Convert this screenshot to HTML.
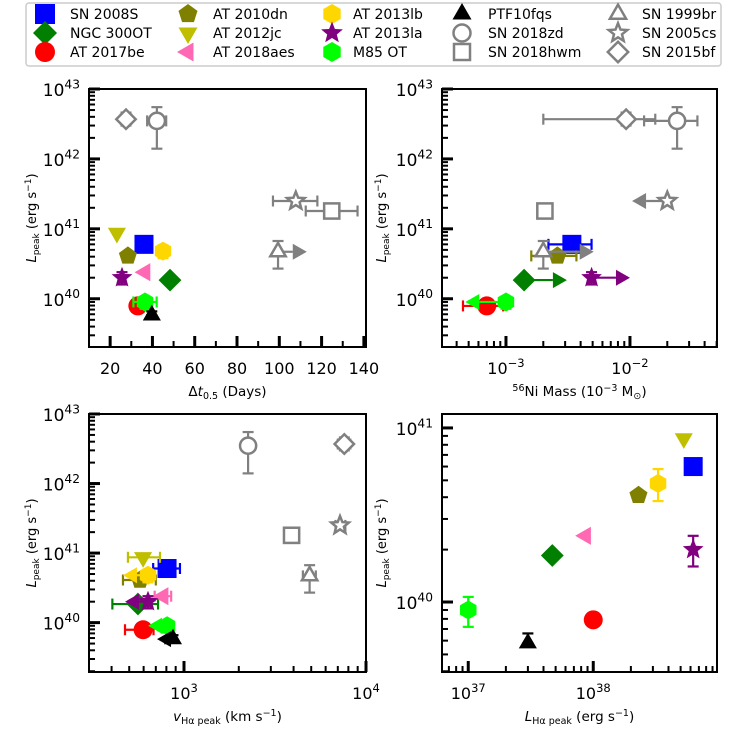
<!DOCTYPE html>
<html><head><meta charset="utf-8"><style>
body{margin:0;background:#fff}
svg{display:block;font-family:"DejaVu Sans","Liberation Sans",sans-serif}
</style></head><body>
<svg id="fig" width="747" height="747" viewBox="0 0 747 747"></svg>
<script>
// ---------- data ----------
const names=["SN 2008S","NGC 300OT","AT 2017be","AT 2010dn","AT 2012jc","AT 2018aes","AT 2013lb","AT 2013la","M85 OT","PTF10fqs","SN 1999br","SN 2018zd","SN 2018hwm","SN 2005cs","SN 2015bf"];
const colors=["#0000ff","#007f00","#ff0000","#808000","#bfbf00","#ff69b4","#ffd700","#800080","#00ff00","#000000","#808080","#808080","#808080","#808080","#808080"];
const shapes=["square","diamond","circle","pentagon","tridown","trileft","hexagon","star","hexagon","triup","triup","circle","square","star","diamond"];
const filled=[1,1,1,1,1,1,1,1,1,1,0,0,0,0,0];
const legendOrder=[0,1,2,3,4,5,6,7,8,9,11,12,10,13,14];
const lPeak=[6.0e40,1.85e40,7.9e39,4.1e40,8.7e40,2.4e40,4.8e40,2.0e40,9e39,5.8e39,4.7e40,3.5e42,1.8e41,2.5e41,3.7e42];
const lPeakErr=[null,null,null,null,null,null,[3.8e40,5.8e40],[1.6e40,2.4e40],[7.2e39,1.07e40],[5.8e39,6.6e39],[2.7e40,6.7e40],[1.4e42,5.5e42],null,null,[3.0e42,4.6e42]];
// panel 1: duration
const p1X=[36,48.3,33.1,28.4,23.2,36.5,45,25.6,36.5,39.7,99.4,42.1,124.8,107.8,27.5];
const p1XErr=[null,null,null,null,null,null,null,null,[31,42],null,null,[37.5,46.5],[112.5,137],[97,118],[25,30]];
const p1Lim=[null,null,null,null,null,null,null,null,null,null,113,null,null,null,null];
// panel 2: Ni mass
const p2X=[3.4e-3,1.4e-3,7.0e-4,2.6e-3,null,null,null,4.9e-3,1.0e-3,null,2.0e-3,2.4e-2,2.06e-3,2.0e-2,9.3e-3];
const p2XErr=[[2.2e-3,4.9e-3],null,[4.5e-4,9.5e-4],[1.6e-3,3.7e-3],null,null,null,null,null,null,null,[1.3e-2,3.5e-2],null,null,[2e-3,1.6e-2]];
const p2Lim=[null,3.1e-3,null,null,null,null,null,1.0e-2,4.7e-4,null,5.1e-3,null,null,1.04e-2,null];
// panel 3: Halpha velocity
const p3X=[807,558,596,573,596,768,634,634,807,870,4900,2250,3900,7200,7600];
const p3XErr=[[677,950],[404,720],[474,680],[462,700],[492,738],[690,850],null,null,null,null,[4500,5300],null,[3700,4200],[6800,7700],[7000,8200]];
const p3Lim=[null,null,null,null,null,null,462,474,634,711,null,null,null,null,null];
// panel 4: Halpha luminosity
const p4X=[6.3e38,4.7e37,1.0e38,2.3e38,5.3e38,8.7e37,3.3e38,6.3e38,1e37,3e37,null,null,null,null,null];
const p4XErr=[null,null,null,null,null,null,null,null,null,null,null,null,null,null,null];
const p4Lim=[null,null,null,null,null,null,null,null,null,null,null,null,null,null,null];
const p1Ticks=[20,40,60,80,100,120,140];

// ---------- helpers ----------
const NS="http://www.w3.org/2000/svg";
const svg=document.getElementById('fig');
function el(tag,attrs,parent){const e=document.createElementNS(NS,tag);for(const k in attrs)e.setAttribute(k,attrs[k]);(parent||svg).appendChild(e);return e;}
function markerPts(shape,cx,cy,r){
  const pts=[];
  const poly=(n,rot,rr)=>{for(let i=0;i<n;i++){const a=rot+i*2*Math.PI/n;pts.push([cx+rr*Math.cos(a),cy+rr*Math.sin(a)]);}};
  if(shape==="pentagon")poly(5,-Math.PI/2,r);
  else if(shape==="hexagon")poly(6,-Math.PI/2,r);
  else if(shape==="triup")poly(3,-Math.PI/2,r*1.1);
  else if(shape==="tridown")poly(3,Math.PI/2,r*1.1);
  else if(shape==="trileft")poly(3,Math.PI,r*1.1);
  else if(shape==="diamond")poly(4,-Math.PI/2,r*1.2);
  else if(shape==="star"){for(let i=0;i<10;i++){const a=-Math.PI/2+i*Math.PI/5;const rr=i%2?r*0.5:r*1.15;pts.push([cx+rr*Math.cos(a),cy+rr*Math.sin(a)]);}}
  return pts.map(p=>p[0].toFixed(1)+","+p[1].toFixed(1)).join(" ");
}
function drawMarker(g,shape,cx,cy,color,fill,r){
  const fc=fill?color:"#fff", sw=fill?0:2.5;
  if(shape==="square"){const h=fill?r:r*0.8;return el('rect',{x:cx-h,y:cy-h,width:2*h,height:2*h,fill:fc,stroke:color,'stroke-width':sw},g);}
  if(shape==="circle"){return el('circle',{cx:cx,cy:cy,r:fill?r:r*0.85,fill:fc,stroke:color,'stroke-width':sw},g);}
  return el('polygon',{points:markerPts(shape,cx,cy,fill?r:r*0.85),fill:fc,stroke:color,'stroke-width':sw},g);
}
function sup(t,x,y,base,exp,size,anchor,name){
  const tx=el('text',{x:x,y:y,'font-size':size,'text-anchor':anchor||'middle',fill:'#000'});
  
  
  const a=el('tspan',{},tx);a.textContent=base;
  const b=el('tspan',{dy:-size*0.45,'font-size':size*0.72},tx);b.textContent=exp;
  return tx;
}
function makePanel(cfg){
  const g=el('g',{});
  
  
  const {L,R,T,B}=cfg;
  const xs=v=>cfg.xlog?L+(Math.log10(v)-cfg.x0)/(cfg.x1-cfg.x0)*(R-L):L+(v-cfg.x0)/(cfg.x1-cfg.x0)*(R-L);
  const ys=v=>B-(Math.log10(v)-cfg.y0)/(cfg.y1-cfg.y0)*(B-T);
  for(let d=Math.floor(cfg.y0);d<=Math.ceil(cfg.y1);d++){
    for(let m=1;m<10;m++){const lv=d+Math.log10(m);if(lv<cfg.y0-1e-6||lv>cfg.y1+1e-6)continue;
      const py=B-(lv-cfg.y0)/(cfg.y1-cfg.y0)*(B-T);
      const len=m===1?11:6;
      const t=el('line',{x1:L,x2:L+len,y1:py,y2:py,stroke:'#000','stroke-width':m===1?3:2},g);
      
      
      if(m===1)sup(null,L-9,py+7,"10",String(d),cfg.yfs,'end','y-tick-label');
    }
  }
  if(cfg.xlog){
    for(let d=Math.floor(cfg.x0);d<=Math.ceil(cfg.x1);d++){
      for(let m=1;m<10;m++){const lv=d+Math.log10(m);if(lv<cfg.x0-1e-6||lv>cfg.x1+1e-6)continue;
        const px=L+(lv-cfg.x0)/(cfg.x1-cfg.x0)*(R-L);const len=m===1?11:6;
        const t=el('line',{x1:px,x2:px,y1:B,y2:B-len,stroke:'#000','stroke-width':m===1?3:2},g);
        
        
        if(m===1)sup(null,px,B+27,"10",String(d).replace('-','\u2212'),cfg.xfs,'middle','x-tick-label');
      }
    }
  } else {
    for(let v=20;v<=140;v+=10){const px=xs(v);const maj=v%20===0;
      const t=el('line',{x1:px,x2:px,y1:B,y2:B-(maj?11:6),stroke:'#000','stroke-width':maj?3:2},g);
      
      
    }
    p1Ticks.forEach(v=>{const t=el('text',{x:xs(v),y:B+27,'font-size':cfg.xfs,'text-anchor':'middle'},g);t.textContent=v;
      
      });
  }
  const X=cfg.X,XE=cfg.XE,LM=cfg.LM;
  for(let i=0;i<names.length;i++){
    if(X[i]==null)continue;
    const sg=el('g',{},g);
    
    
    const px=xs(X[i]),py=ys(lPeak[i]),c=colors[i];
    if(XE[i]){const a=xs(XE[i][0]),b=xs(XE[i][1]);
      el('line',{x1:a,x2:b,y1:py,y2:py,stroke:c,'stroke-width':2.2},sg);
      [a,b].forEach(q=>el('line',{x1:q,x2:q,y1:py-5.5,y2:py+5.5,stroke:c,'stroke-width':2.2},sg));}
    if(lPeakErr[i]){const a=ys(lPeakErr[i][0]),b=ys(lPeakErr[i][1]);
      el('line',{x1:px,x2:px,y1:a,y2:b,stroke:c,'stroke-width':2.2},sg);
      [a,b].forEach(q=>el('line',{x1:px-5.5,x2:px+5.5,y1:q,y2:q,stroke:c,'stroke-width':2.2},sg));}
    if(LM[i]!=null){const tx=xs(LM[i]);const dir=tx>px?1:-1;const base=tx-dir*14;
      el('line',{x1:px,x2:base,y1:py,y2:py,stroke:c,'stroke-width':2.2},sg);
      el('polygon',{points:`${tx},${py} ${base},${py-8} ${base},${py+8}`,fill:c},sg);}
    drawMarker(sg,shapes[i],px,py,c,filled[i],9.5);
  }
  const fr=el('rect',{x:L,y:T,width:R-L,height:B-T,fill:'none',stroke:'#000','stroke-width':2},g);
  
  
  const cy=(T+B)/2;
  const yl=el('text',{x:0,y:0,'font-size':13,'text-anchor':'middle',transform:`translate(${cfg.ylx},${cy}) rotate(-90)`},g);
  
  
  yl.innerHTML='<tspan font-style="italic">L</tspan><tspan font-size="9" dy="3">peak</tspan><tspan dy="-3"> (erg s</tspan><tspan font-size="9" dy="-5">\u22121</tspan><tspan dy="5">)</tspan>';
  const xl=el('text',{x:(L+R)/2,y:B+49,'font-size':13.5,'text-anchor':'middle'},g);
  
  
  xl.innerHTML=cfg.xlabel;
}
makePanel({name:'panel-duration',L:89,R:366,T:89,B:347,xlog:false,x0:10,x1:141,y0:39.31,y1:43.0,X:p1X,XE:p1XErr,LM:p1Lim,yfs:17,xfs:16,ylx:36,
  xlabel:'\u0394<tspan font-style="italic">t</tspan><tspan font-size="9.5" dy="3">0.5</tspan><tspan dy="-3"> (Days)</tspan>'});
makePanel({name:'panel-ni-mass',L:442,R:717,T:89,B:347,xlog:true,x0:-3.516,x1:-1.298,y0:39.31,y1:43.0,X:p2X,XE:p2XErr,LM:p2Lim,yfs:17,xfs:16,ylx:386,
  xlabel:'<tspan font-size="9.5" dy="-5">56</tspan><tspan dy="5">Ni Mass (10</tspan><tspan font-size="9.5" dy="-5">\u22123</tspan><tspan dy="5"> M</tspan><tspan font-size="9.5" dy="3">\u2299</tspan><tspan dy="-3">)</tspan>'});
makePanel({name:'panel-velocity',L:89,R:366,T:414,B:672,xlog:true,x0:2.478,x1:4.0,y0:39.29,y1:43.0,X:p3X,XE:p3XErr,LM:p3Lim,yfs:17,xfs:16,ylx:36,
  xlabel:'<tspan font-style="italic">v</tspan><tspan font-size="9.5" dy="3">H\u03b1 peak</tspan><tspan dy="-3"> (km s</tspan><tspan font-size="9.5" dy="-5">\u22121</tspan><tspan dy="5">)</tspan>'});
makePanel({name:'panel-halpha-lum',L:442,R:717,T:414,B:672,xlog:true,x0:36.79,x1:38.99,y0:39.598,y1:41.08,X:p4X,XE:p4XErr,LM:p4Lim,yfs:17,xfs:16,ylx:386,
  xlabel:'<tspan font-style="italic">L</tspan><tspan font-size="9.5" dy="3">H\u03b1 peak</tspan><tspan dy="-3"> (erg s</tspan><tspan font-size="9.5" dy="-5">\u22121</tspan><tspan dy="5">)</tspan>'});

// legend
const lg=el('g',{});


el('rect',{x:26,y:3,width:695,height:63,rx:3,fill:'#fff',stroke:'#ccc','stroke-width':1.5},lg);
const colMX=[45,188,332,462,618],colTX=[70,213,353,488,642],rowY=[14,33,52];
legendOrder.forEach((i,k)=>{
  const c=Math.floor(k/3),r=k%3;
  const e=el('g',{},lg);
  
  
  drawMarker(e,shapes[i],colMX[c],rowY[r],colors[i],filled[i],10);
  const t=el('text',{x:colTX[c],y:rowY[r]+5,'font-size':14},e);t.textContent=names[i];
});
</script>
</body></html>
